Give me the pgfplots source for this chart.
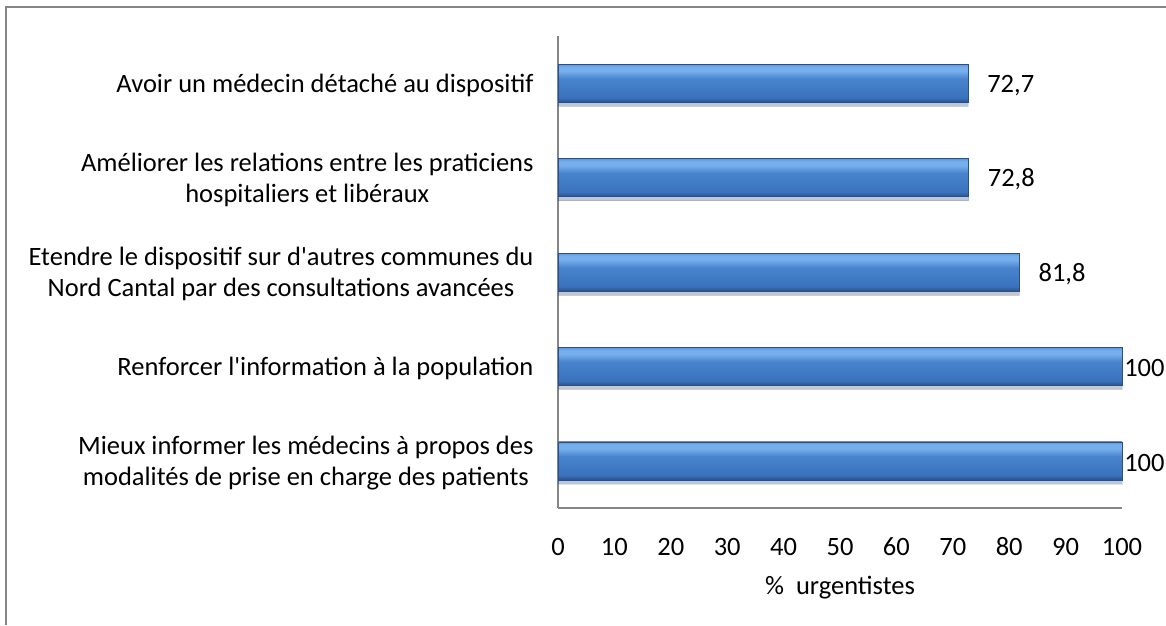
\documentclass[border=0pt]{standalone}
\usepackage{pgfplots}
\pgfplotsset{compat=1.18}
\usepackage{fontspec}
\setmainfont{Carlito}
\definecolor{axgray}{RGB}{134,134,134}
\definecolor{bedge}{RGB}{92,152,222}
\definecolor{btop}{RGB}{118,175,236}
\definecolor{bmid}{RGB}{72,132,206}
\definecolor{bmidb}{RGB}{58,114,188}
\definecolor{bbot}{RGB}{40,80,140}
\definecolor{bdraw}{RGB}{45,78,128}
\pgfdeclareverticalshading{barshade}{100bp}{color(0bp)=(bbot); color(25bp)=(bbot); color(31bp)=(bmidb); color(56bp)=(bmid); color(66bp)=(btop); color(71bp)=(btop); color(75bp)=(bedge); color(100bp)=(bedge)}
\begin{document}
\begin{tikzpicture}[x=1pt,y=1pt]
\useasboundingbox (0,0) rectangle (1166,625);
\draw[axgray, line width=2pt] (6,0) -- (6,618) -- (1166,618);
\begin{axis}[
  at={(558pt,117pt)}, anchor=south west,
  scale only axis, width=564pt, height=472pt,
  xmin=0, xmax=100, ymin=-0.5, ymax=4.5,
  axis x line*=bottom, axis y line*=left,
  axis line style={axgray, line width=1.6pt},
  xtick={0,10,...,100}, ytick={0,1,2,3,4},
  major tick length=0pt,
  yticklabels={{Mieux informer les médecins à propos des\\modalités de prise en charge des patients},
    {Renforcer l\textquotesingle information à la population},
    {Etendre le dispositif sur d\textquotesingle autres communes du\\Nord Cantal par des consultations avancées},
    {Améliorer les relations entre les praticiens\\hospitaliers et libéraux},
    {Avoir un médecin détaché au dispositif}},
  yticklabel style={align=center, anchor=east, xshift=-21pt, yshift=-2pt, font=\fontsize{26.5}{31}\selectfont},
  xticklabel style={anchor=base, yshift=-47pt, font=\fontsize{26.5}{31}\selectfont},
  /pgf/number format/assume math mode=true,
  xlabel={\%\ \ urgentistes},
  xlabel style={font=\fontsize{26.5}{31}\selectfont, at={(0.5,0)}, anchor=center, yshift=-80pt},
  xbar, bar width=38pt, bar shift=0pt,
  clip=false,
  point meta=explicit symbolic,
  nodes near coords,
  nodes near coords style={anchor=west, inner sep=0pt, yshift=-2pt, font=\fontsize{26.5}{31}\selectfont, text=black},
  barstyle/.style={
    draw=bdraw, line width=0.5pt,
    preaction={fill=black, opacity=0.15, transform canvas={yshift=-4pt}},
    shading=barshade},
]
\addplot[barstyle, nodes near coords style={xshift=2pt}] coordinates {(100,0) [100]};
\addplot[barstyle, nodes near coords style={xshift=2pt}] coordinates {(100,1) [100]};
\addplot[barstyle, nodes near coords style={xshift=19pt}] coordinates {(81.8,2) [{81,8}]};
\addplot[barstyle, nodes near coords style={xshift=19pt}] coordinates {(72.8,3) [{72,8}]};
\addplot[barstyle, nodes near coords style={xshift=19pt}] coordinates {(72.7,4) [{72,7}]};
\end{axis}
\end{tikzpicture}
\end{document}
